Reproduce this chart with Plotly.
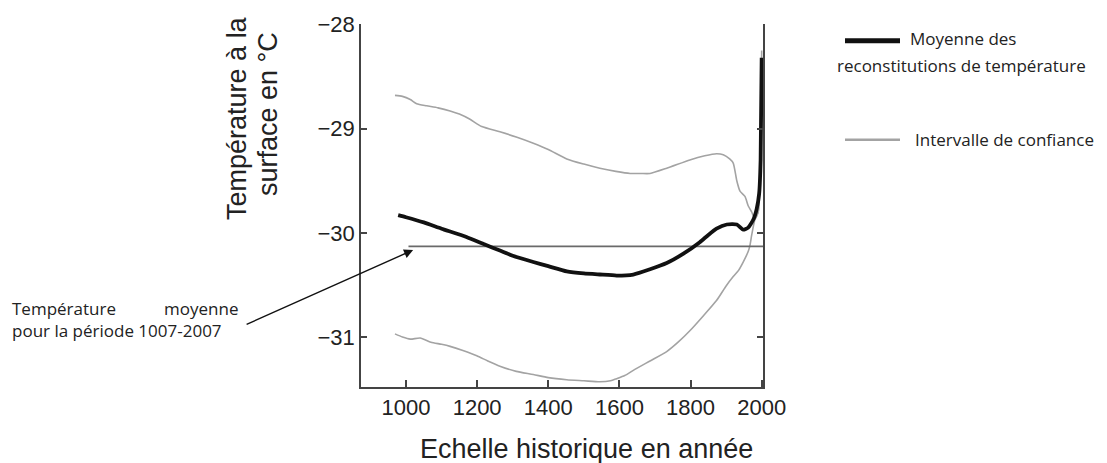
import plotly.graph_objects as go

# ---------------- data ----------------
mean_years = [978, 1000, 1050, 1100, 1170, 1220, 1264, 1300, 1358, 1400, 1452, 1500,
              1545, 1592, 1639, 1686, 1733, 1780, 1826, 1850, 1873, 1902, 1930, 1948,
              1962, 1977, 1986, 1993, 1997, 2000]
mean_temp = [-29.83, -29.85, -29.90, -29.96, -30.04, -30.11, -30.17, -30.22, -30.28, -30.32,
             -30.37, -30.39, -30.40, -30.41, -30.40, -30.35, -30.29, -30.20, -30.09, -30.02,
             -29.96, -29.92, -29.92, -29.97, -29.95, -29.87, -29.77, -29.62, -29.30, -28.32]

upper_years = [969, 990, 1012, 1030, 1058, 1090, 1124, 1150, 1180, 1213, 1264, 1310, 1358,
               1400, 1452, 1500, 1545, 1590, 1630, 1660, 1686, 1733, 1798, 1840, 1873, 1892,
               1910, 1920, 1930, 1939, 1953, 1962, 1972, 1981, 1990, 1996, 2000]
upper_temp = [-28.68, -28.69, -28.72, -28.76, -28.78, -28.80, -28.83, -28.86, -28.91, -28.98,
              -29.03, -29.08, -29.14, -29.20, -29.29, -29.34, -29.38, -29.41, -29.43, -29.43,
              -29.43, -29.38, -29.30, -29.26, -29.24, -29.25, -29.29, -29.33, -29.50, -29.60,
              -29.65, -29.74, -29.80, -29.87, -29.80, -29.40, -28.25]

lower_years = [969, 990, 1012, 1040, 1070, 1100, 1124, 1160, 1199, 1230, 1264, 1310, 1358,
               1400, 1452, 1500, 1545, 1575, 1592, 1615, 1639, 1686, 1733, 1765, 1798, 1835,
               1873, 1900, 1920, 1935, 1948, 1962, 1967, 1972, 1981, 1990, 1996, 2000]
lower_temp = [-30.97, -31.00, -31.02, -31.01, -31.05, -31.07, -31.09, -31.13, -31.18, -31.23,
              -31.28, -31.33, -31.36, -31.39, -31.41, -31.42, -31.43, -31.42, -31.40, -31.37,
              -31.32, -31.23, -31.14, -31.05, -30.94, -30.80, -30.65, -30.51, -30.42, -30.36,
              -30.28, -30.18, -30.12, -30.02, -29.87, -29.80, -29.50, -28.45]

period_years = [1007, 2007]
period_mean = [-30.13, -30.13]

x_ticks = [1000, 1200, 1400, 1600, 1800, 2000]
y_ticks = [-31, -30, -29, -28]

x_title = "Echelle historique en année"
y_title_lines = ["Température à la", "surface en °C"]
legend_mean = ["Moyenne des", "reconstitutions de température"]
legend_ci = "Intervalle de confiance"
note_left = "Température"
note_right = "moyenne"
note_line2 = "pour la période 1007-2007"

# ---------------- layout geometry (pixels) ----------------
W, H = 1107, 463
L, R, T, B = 361, 763, 20, 387


def px(x):
    return (x - L) / (R - L)


def py(y):
    return (B - y) / (B - T)


axis_font = dict(family="Liberation Sans, Arial, sans-serif", size=22, color="#222")
title_font = dict(family="Liberation Sans, Arial, sans-serif", size=27, color="#222")
note_font = dict(family="Open Sans, sans-serif", size=17, color="#222")

fig = go.Figure()
fig.add_trace(go.Scatter(x=upper_years, y=upper_temp, mode="lines",
                         line=dict(color="#a3a3a3", width=1.6, shape="spline", smoothing=0.6),
                         hoverinfo="skip"))
fig.add_trace(go.Scatter(x=lower_years, y=lower_temp, mode="lines",
                         line=dict(color="#a3a3a3", width=1.6, shape="spline", smoothing=0.6),
                         hoverinfo="skip"))
fig.add_trace(go.Scatter(x=period_years, y=period_mean, mode="lines",
                         line=dict(color="#6a6a6a", width=1.8), hoverinfo="skip"))
fig.add_trace(go.Scatter(x=mean_years, y=mean_temp, mode="lines",
                         line=dict(color="#111", width=3.8, shape="spline", smoothing=0.5),
                         hoverinfo="skip"))

annotations = [
    dict(xref="paper", yref="paper", x=px(237), y=py(115), text=y_title_lines[0], textangle=-90,
         showarrow=False, xanchor="center", yanchor="middle", font=title_font),
    dict(xref="paper", yref="paper", x=px(268), y=py(111), text=y_title_lines[1], textangle=-90,
         showarrow=False, xanchor="center", yanchor="middle", font=title_font),
    dict(xref="paper", yref="paper", x=px(586), y=py(450), text=x_title,
         showarrow=False, xanchor="center", yanchor="middle", font=title_font),
    # legend
    dict(xref="paper", yref="paper", x=px(908), y=py(35), text=legend_mean[0],
         showarrow=False, xanchor="left", yanchor="middle", font=note_font),
    dict(xref="paper", yref="paper", x=px(835), y=py(62), text=legend_mean[1],
         showarrow=False, xanchor="left", yanchor="middle", font=note_font),
    dict(xref="paper", yref="paper", x=px(913), y=py(137), text=legend_ci,
         showarrow=False, xanchor="left", yanchor="middle", font=note_font),
    # note
    dict(xref="paper", yref="paper", x=px(10), y=py(308), text=note_left,
         showarrow=False, xanchor="left", yanchor="middle", font=note_font),
    dict(xref="paper", yref="paper", x=px(240), y=py(308), text=note_right,
         showarrow=False, xanchor="right", yanchor="middle", font=note_font),
    dict(xref="paper", yref="paper", x=px(10), y=py(330), text=note_line2,
         showarrow=False, xanchor="left", yanchor="middle", font=note_font),
    # arrow
    dict(x=1020, y=-30.165, xref="x", yref="y", text="", showarrow=True,
         ax=-168, ay=75, arrowhead=2, arrowsize=1.3, arrowwidth=1.4, arrowcolor="#111"),
]

shapes = [
    dict(type="line", xref="paper", yref="paper", x0=px(845), x1=px(900), y0=py(37), y1=py(37),
         line=dict(color="#111", width=5)),
    dict(type="line", xref="paper", yref="paper", x0=px(845), x1=px(900), y0=py(137), y1=py(137),
         line=dict(color="#a3a3a3", width=2.5)),
]

fig.update_layout(
    width=W, height=H, autosize=False,
    margin=dict(l=L, r=W - R, t=T, b=H - B, pad=0),
    paper_bgcolor="white", plot_bgcolor="white",
    showlegend=False,
    annotations=annotations, shapes=shapes,
    xaxis=dict(range=[873.5, 2003.7], tickvals=x_ticks, ticks="inside", ticklen=7,
               tickwidth=1.5, tickcolor="#444", showline=True, linecolor="#444", linewidth=1.5,
               showgrid=False, zeroline=False, tickfont=axis_font, mirror=False),
    yaxis=dict(range=[-31.48, -27.995], tickvals=y_ticks, ticks="inside", ticklen=6,
               tickwidth=1.5, tickcolor="#444", showline=True, linecolor="#444", linewidth=1.5,
               showgrid=False, zeroline=False, tickfont=axis_font, mirror="ticks"),
)

fig.write_html("out.html", config={"displayModeBar": False},
               post_script="document.body.style.margin='0';document.body.style.overflow='hidden';")
